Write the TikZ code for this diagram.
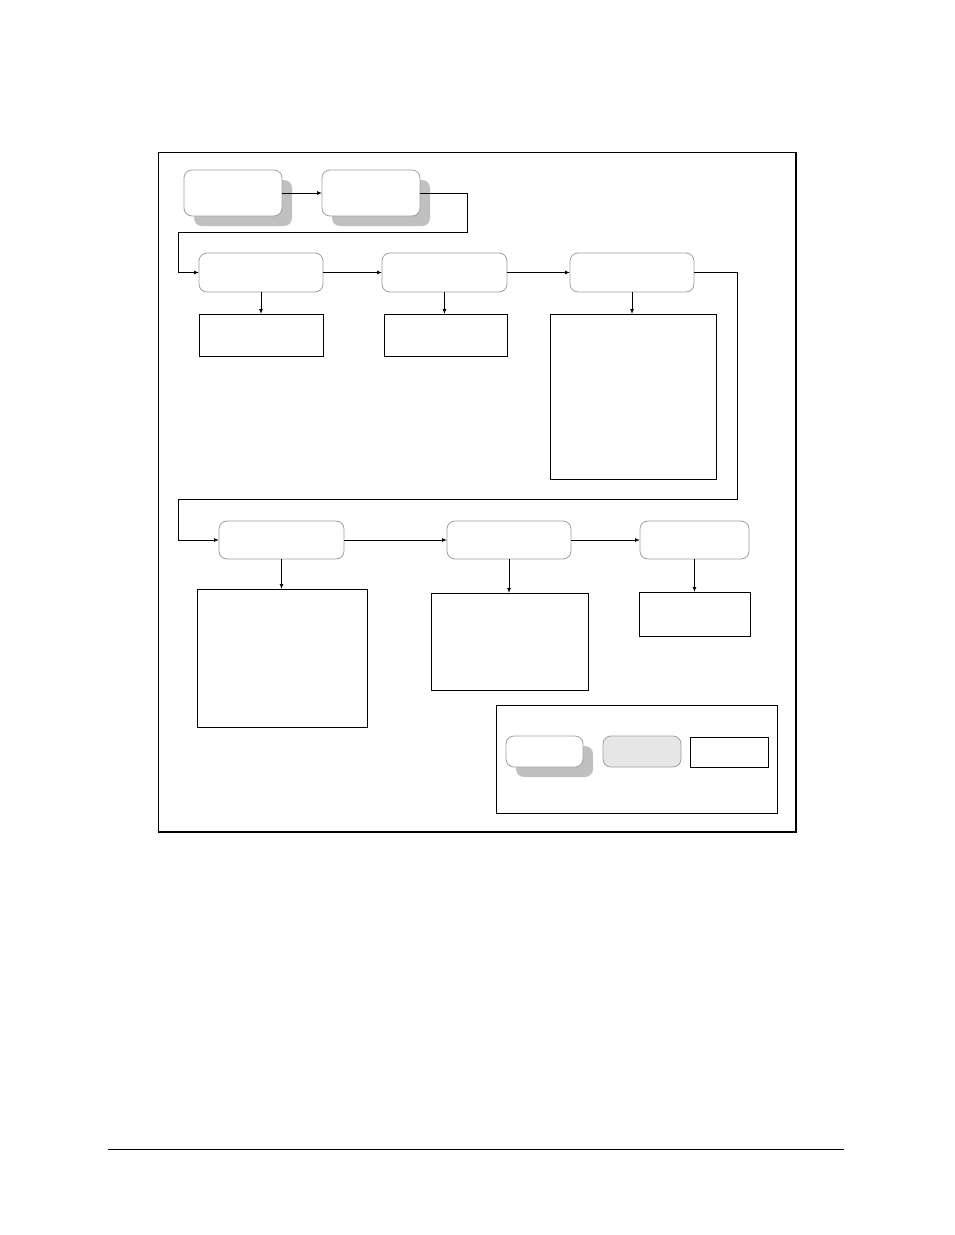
\documentclass[tikz,border=0pt]{standalone}
\usetikzlibrary{arrows.meta,shadows}

\definecolor{shadowgray}{RGB}{192,192,192}
\definecolor{edgegray}{RGB}{160,160,160}
\definecolor{legendgray}{RGB}{230,230,230}

\tikzset{every picture/.style={line width=1pt},
  stage/.style={draw=edgegray, fill=white, rounded corners=8pt, inner sep=0pt, outer sep=0pt, line width=0.8pt},
  shadowed/.style={stage, drop shadow={shadow xshift=10pt, shadow yshift=-10pt, fill=shadowgray, opacity=1, draw=none}},
  detail/.style={draw=black, fill=white, inner sep=0pt, outer sep=0pt, line width=1pt},
  arr/.style={-{Latex[length=5pt,width=4pt]}, line width=1pt}}

\begin{document}
\begin{tikzpicture}[x=1pt,y=1pt,yscale=-1,xscale=1]
\path[use as bounding box] (0,0) rectangle (954,1235);

%Outer frame
\draw (158,152) rectangle (796,832);
\draw [line width=2.2pt] (796,152) -- (796,832) -- (158,832);

%Rounded Rect with shadow
\node [shadowed, minimum width=98, minimum height=46] (start) at (233,193) {};
\node [shadowed, minimum width=98, minimum height=46] (prep) at (371,193) {};

%Rounded Rect
\node [stage, minimum width=124, minimum height=39] (sone) at (261,272.5) {};
\node [stage, minimum width=125, minimum height=39] (stwo) at (444.5,272.5) {};
\node [stage, minimum width=124, minimum height=39] (sthree) at (632,272.5) {};
\node [stage, minimum width=125, minimum height=38] (sfour) at (281.5,540) {};
\node [stage, minimum width=124, minimum height=38] (sfive) at (509,540) {};
\node [stage, minimum width=109, minimum height=38] (ssix) at (694.5,540) {};

%Shape: Rectangle
\node [detail, minimum width=124, minimum height=42] (done) at (261,335) {};
\node [detail, minimum width=123, minimum height=42] (dtwo) at (445.5,335) {};
\node [detail, minimum width=166, minimum height=165] (dthree) at (633,396.5) {};
\node [detail, minimum width=170, minimum height=138] (dfour) at (282,658) {};
\node [detail, minimum width=157, minimum height=97] (dfive) at (509.5,641.5) {};
\node [detail, minimum width=111, minimum height=44] (dsix) at (694.5,614) {};

%Bends
\coordinate (bendr1) at (467,232);
\coordinate (bendl1) at (178,232);
\coordinate (bendr2) at (737,499);
\coordinate (bendl2) at (178,499);

%Connectors
\draw [arr] (start.east) -- (prep.west);
\draw [arr] (prep.east) -| (bendr1) -- (bendl1) |- (sone.west);
\draw [arr] (sone.east) -- (stwo.west);
\draw [arr] (stwo.east) -- (sthree.west);
\draw [arr] (sthree.east) -| (bendr2) -- (bendl2) |- (sfour.west);
\draw [arr] (sfour.east) -- (sfive.west);
\draw [arr] (sfive.east) -- (ssix.west);

\draw [arr] (sone.south) -- (sone.south |- done.north);
\draw [arr] (stwo.south) -- (stwo.south |- dtwo.north);
\draw [arr] (sthree.south) -- (sthree.south |- dthree.north);
\draw [arr] (sfour.south) -- (sfour.south |- dfour.north);
\draw [arr] (sfive.south) -- (sfive.south |- dfive.north);
\draw [arr] (ssix.south) -- (ssix.south |- dsix.north);

%Legend
\node [detail, minimum width=281, minimum height=108] (legend) at (636.5,759) {};
\node [shadowed, minimum width=77, minimum height=31] (keyshadow) at (544.5,751.5) {};
\node [stage, fill=legendgray, minimum width=78, minimum height=31] (keygray) at (642,751.5) {};
\node [detail, minimum width=78, minimum height=30] (keybox) at (729,752) {};

%Page rule
\draw (108,1149) -- (844,1149);

\end{tikzpicture}
\end{document}
